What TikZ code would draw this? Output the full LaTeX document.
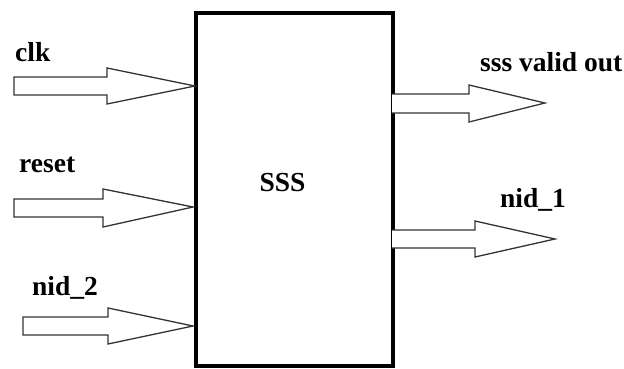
\documentclass[tikz,border=0pt]{standalone}
\usepackage{fontspec}
\setmainfont{Liberation Serif}
\begin{document}
\begin{tikzpicture}[x=1pt,y=-1pt,
  lbl/.style={anchor=base west,inner sep=0pt,font=\fontsize{27.5}{30}\selectfont\bfseries,text=black},
  blk/.style={draw=black!80,line width=1.3pt,fill=white,line join=miter},
  box/.style={draw=black,line width=4pt,fill=white}]
\useasboundingbox (0,0) rectangle (624,369);
% main block
\node[box,minimum width=197pt,minimum height=353pt,inner sep=0pt,anchor=north west] (sss) at (194,11) {};
\node[anchor=base,inner sep=0pt,font=\fontsize{27.5}{30}\selectfont\bfseries,text=black] (sssl) at (282.5,191) {SSS};
% tips on the block
\coordinate (tclk) at (195,86);
\coordinate (trst) at (193,207);
\coordinate (tnid2) at (193,326);
\coordinate (tvalid) at (545,103);
\coordinate (tnid1) at (555,239);
% input arrows
\draw[blk] (14,77) -- (107,77) -- (107,68) -- (tclk) -- (107,104) -- (107,95) -- (14,95) -- cycle;
\draw[blk] (14,199) -- (103,199) -- (103,189) -- (trst) -- (103,227) -- (103,217) -- (14,217) -- cycle;
\draw[blk] (23,317) -- (108,317) -- (108,308) -- (tnid2) -- (108,344) -- (108,335) -- (23,335) -- cycle;
% output arrows
\draw[blk] (392,94) -- (469,94) -- (469,85) -- (tvalid) -- (469,122) -- (469,113) -- (392,113);
\draw[blk] (392,230) -- (475,230) -- (475,221) -- (tnid1) -- (475,257) -- (475,248) -- (392,248);
% labels
\node[lbl] (lclk) at (15,62) {clk};
\node[lbl] (lrst) at (19,172) {reset};
\node[lbl] (lnid2) at (32,295) {nid\_2};
\node[lbl] (lvalid) at (480,72) {sss valid out};
\node[lbl] (lnid1) at (500,207) {nid\_1};
\end{tikzpicture}
\end{document}
